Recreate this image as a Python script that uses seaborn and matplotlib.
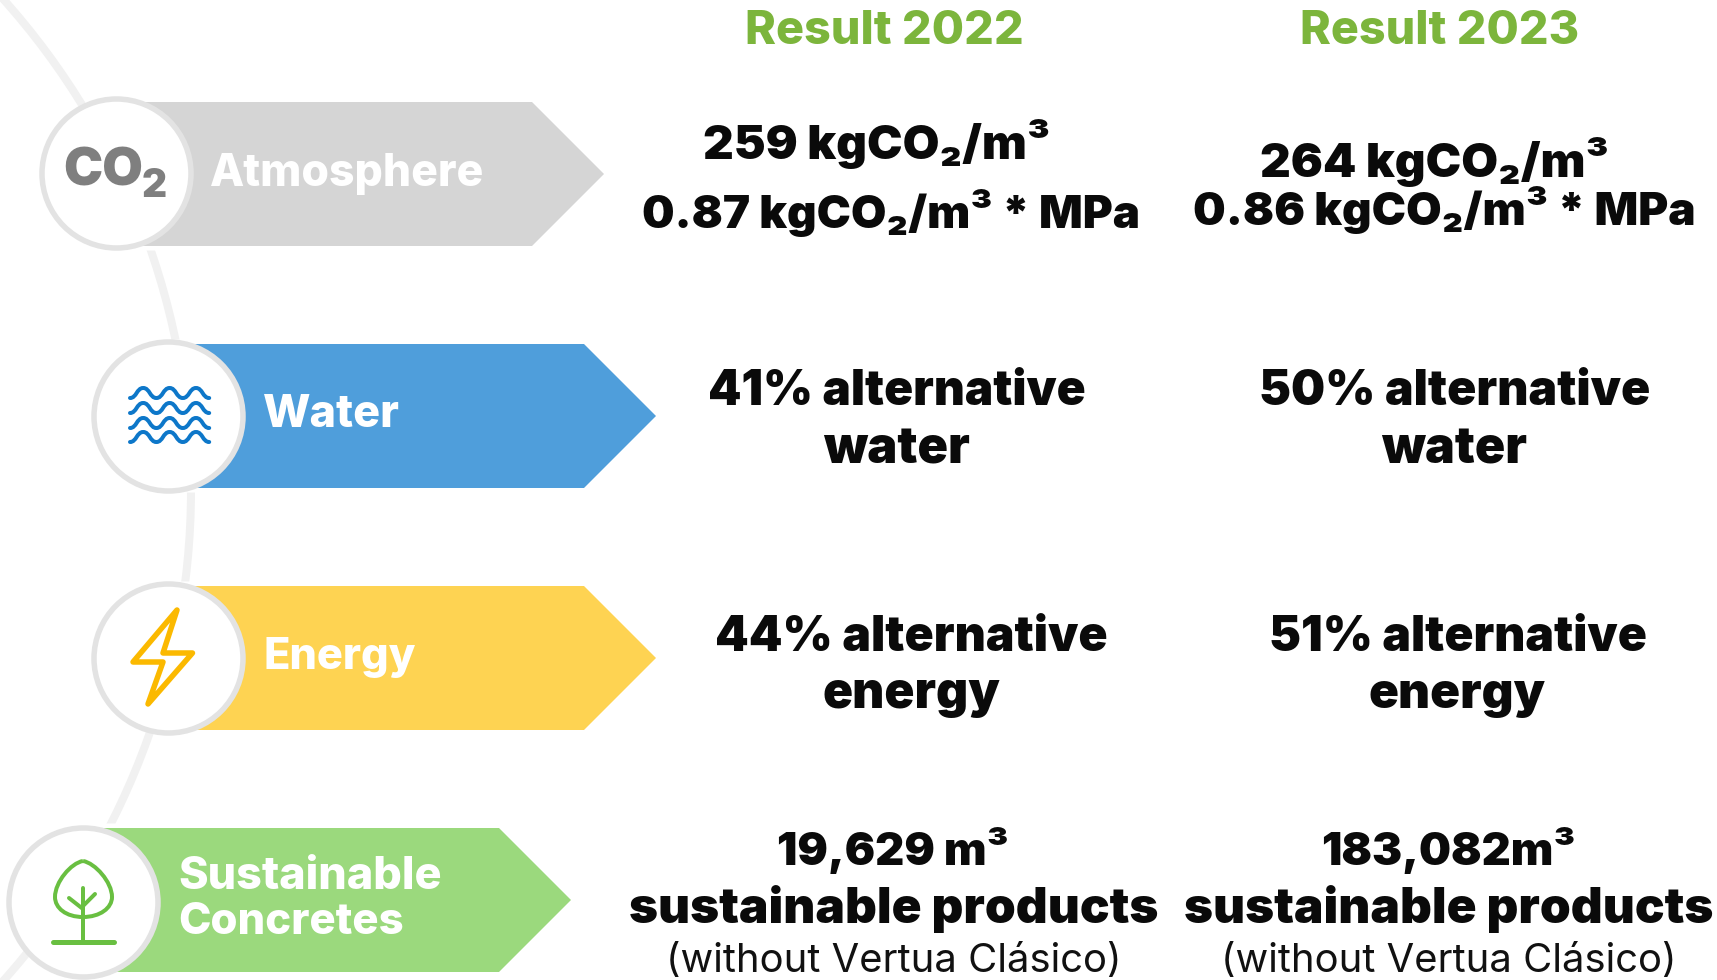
import matplotlib
matplotlib.use("Agg")
import matplotlib.pyplot as plt
import matplotlib.patheffects as pe
from matplotlib.patches import Polygon, Arc, PathPatch
from matplotlib.path import Path
import seaborn as sns

# ---------- content ----------
categories = ["Atmosphere", "Water", "Energy", "Sustainable\nConcretes"]
headers = ["Result 2022", "Result 2023"]
result_2022 = [["259 kgCO₂/m³", "0.87 kgCO₂/m³ * MPa"],
               ["41% alternative", "water"],
               ["44% alternative", "energy"],
               ["19,629 m³", "sustainable products", "(without Vertua Clásico)"]]
result_2023 = [["264 kgCO₂/m³", "0.86 kgCO₂/m³ * MPa"],
               ["50% alternative", "water"],
               ["51% alternative", "energy"],
               ["183,082m³", "sustainable products", "(without Vertua Clásico)"]]

# ---------- styles and layout (pixels of the 1717x980 picture) ----------
arrow_colors = ["#d5d5d5", "#4f9edb", "#fed352", "#9bd97d"]
GREEN_TITLE = "#7cb53c"
RING = "#e3e3e3"
ARC = "#f1f1f1"
PX = 0.72
FAM = ["Inter", "DejaVu Sans"]
PAD = 2

circle_x = [116, 168, 168, 82.5]
circle_y = [173, 416, 658, 902]
arrow_top = [102, 344, 586, 828]
arrow_bottom = [246, 488, 730, 972]
arrow_shoulder = [532, 584, 584, 499]
arrow_tip = [604, 656, 656, 571]

label_layout = [[(212, 483, 186)], [(265, 398, 427)], [(266, 415, 669)],
                [(180, 440, 889), (180, 402, 934)]]
header_layout = [(747, 1022, 44), (1302, 1577, 44)]
layout_2022 = [[(705, 1048, 159), (644, 1138, 228)],
               [(710, 1084, 405), (825, 968, 463)],
               [(717, 1106, 651), (825, 999, 708)],
               [(779, 1007, 865), (631, 1156, 923), (668, 1120, 972)]]
layout_2023 = [[(1262, 1607, 177), (1195, 1693, 225)],
               [(1261, 1648, 405), (1383, 1525, 463)],
               [(1271, 1645, 651), (1371, 1544, 708)],
               [(1323, 1574, 865), (1186, 1711, 923), (1223, 1675, 972)]]

sns.set_theme(style="white")
fig = plt.figure(figsize=(17.17, 9.8), dpi=100, facecolor="white")
ax = fig.add_axes([0, 0, 1, 1])
ax.set_xlim(0, 1717)
ax.set_ylim(980, 0)
ax.axis("off")
renderer = fig.canvas.get_renderer()


def fit_text(s, x0, x1, base, weight=900, color="black", zorder=6, pad=PAD):
    x0, x1 = x0 - pad, x1 + pad
    t = ax.text(x0, base, s, ha="left", va="baseline", family=FAM, weight=weight,
                color=color, fontsize=30, zorder=zorder)
    box = t.get_window_extent(renderer)
    t.set_fontsize(30 * (x1 - x0) / box.width)
    box = t.get_window_extent(renderer)
    t.set_x(x0 - (box.x0 - x0))
    return t


# background arc
ax.add_patch(Arc((-544.5, 490), 1471, 1471, theta1=-45, theta2=45,
                 color=ARC, lw=8 * PX, zorder=1))

# arrows
for i in range(4):
    mid = (arrow_top[i] + arrow_bottom[i]) / 2
    poly = Polygon([(circle_x[i], arrow_top[i]), (arrow_shoulder[i], arrow_top[i]),
                    (arrow_tip[i], mid), (arrow_shoulder[i], arrow_bottom[i]),
                    (circle_x[i], arrow_bottom[i])],
                   closed=True, facecolor=arrow_colors[i], edgecolor="none", zorder=2)
    poly.set_path_effects([pe.withStroke(linewidth=9 * PX, foreground="white")])
    ax.add_patch(poly)

# rings
sns.scatterplot(x=circle_x, y=circle_y, s=(149 * PX) ** 2, color="white",
                edgecolor=RING, linewidth=5.5 * PX, zorder=3, ax=ax, legend=False)
ax.set_xlim(0, 1717)
ax.set_ylim(980, 0)
ax.axis("off")

# category labels
for name, lay in zip(categories, label_layout):
    for line, (x0, x1, b) in zip(name.split("\n"), lay):
        fit_text(line, x0, x1, b, weight=800, color="white")

# headers
for h, (x0, x1, b) in zip(headers, header_layout):
    fit_text(h, x0, x1, b, weight=800, color=GREEN_TITLE)

# results
for block, lay in ((result_2022, layout_2022), (result_2023, layout_2023)):
    for lines, pos in zip(block, lay):
        for line, (x0, x1, b) in zip(lines, pos):
            fit_text(line, x0, x1, b, weight=400 if line.startswith("(") else 900,
                     color="#0a0a0a" if not line.startswith("(") else "#111111")

# CO2 icon
fit_text("CO", 65, 141, 185, weight=900, color="#7f7f7f")
fit_text("2", 144, 165, 197, weight=900, color="#7f7f7f")

# water icon
WATER = "#0d77c9"
for c in (393, 408, 423, 437):
    verts = [(130, c + 5)]
    codes = [Path.MOVETO]
    x, up = 130, True
    for _ in range(6):
        y0 = c + 5 if up else c - 5
        y1 = c - 5 if up else c + 5
        verts += [(x + 6.6, y0), (x + 6.6, y1), (x + 13.2, y1)]
        codes += [Path.CURVE4] * 3
        x += 13.2
        up = not up
    ax.add_patch(PathPatch(Path(verts, codes), fill=False, edgecolor=WATER,
                           lw=4 * PX, capstyle="round", zorder=5))

# energy icon
ax.add_patch(Polygon([(177, 610), (133, 662), (163, 662), (148, 704), (192.5, 653), (163, 653)],
                     closed=True, facecolor="white", edgecolor="#fbb900", lw=5.5 * PX,
                     joinstyle="round", zorder=5))

# tree icon
TREE = "#69bf41"
crown = Path([(83, 861), (95, 863), (112, 882), (112, 897), (112, 908), (100, 917), (83, 917),
              (66, 917), (55, 908), (55, 897), (55, 882), (71, 863), (83, 861)],
             [Path.MOVETO] + [Path.CURVE4] * 12)
ax.add_patch(PathPatch(crown, fill=False, edgecolor=TREE, lw=4 * PX, zorder=5))
for xs, ys, w in (((83, 83), (888, 942), 4), ((69, 83), (898, 909), 4),
                  ((95, 83), (894, 906), 4), ((53, 114), (942, 942), 5)):
    ax.plot(xs, ys, color=TREE, lw=w * PX, solid_capstyle="round", zorder=5)

fig.savefig("out.png", dpi=100, facecolor="white")
